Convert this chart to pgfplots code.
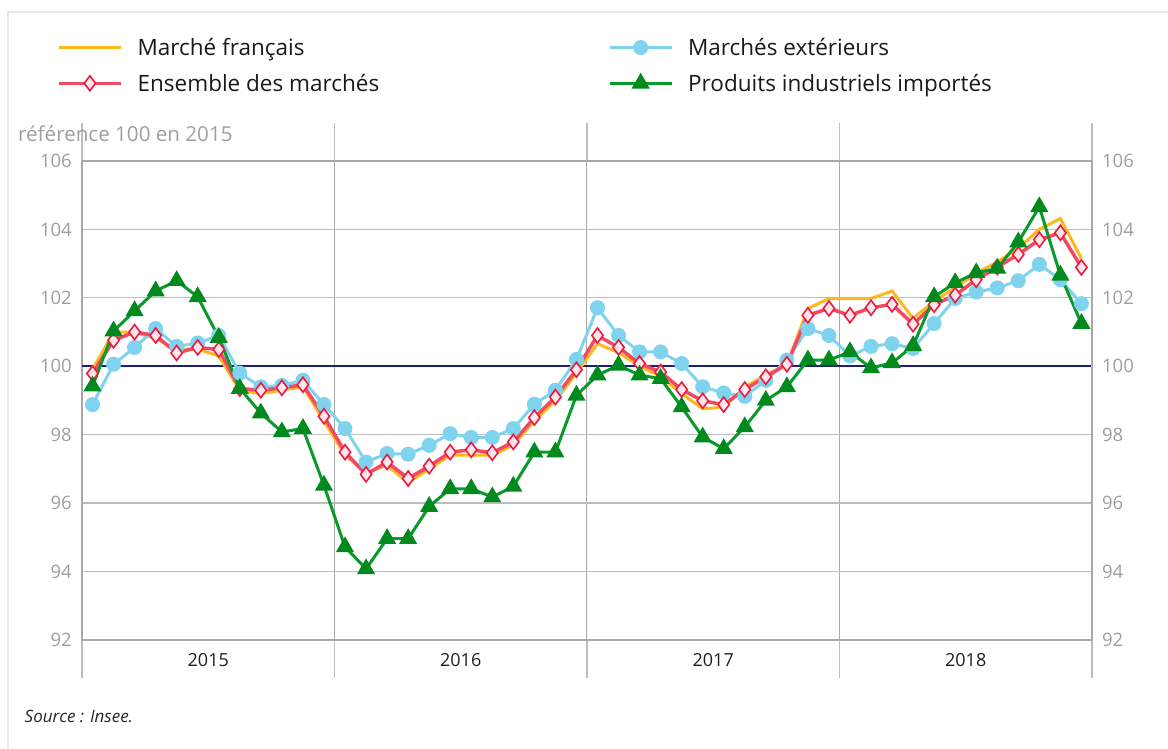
\documentclass[border=0pt]{standalone}
\usepackage{pgfplots}
\pgfplotsset{compat=1.18}
\usepackage{pgfplotstable}
\usepackage{fontspec}
\setmainfont{Open Sans}
\definecolor{cOrange}{HTML}{FFB81C}
\definecolor{cRed}{HTML}{F24A64}
\definecolor{cRedMk}{HTML}{EC1A40}
\definecolor{cPink}{HTML}{FDE6EA}
\definecolor{cBlue}{HTML}{7FD3EE}
\definecolor{cGreen}{HTML}{0A9A2C}
\definecolor{cGreenMk}{HTML}{008A1E}
\definecolor{cNavy}{HTML}{1F1F7A}
\definecolor{cGrid}{HTML}{BDBDBD}
\definecolor{cAxis}{HTML}{A8A8A8}
\definecolor{cTick}{HTML}{9E9E9E}
\definecolor{cFrame}{HTML}{E8E8E8}

\pgfplotstableread{
x fr ext ens imp
0.5 99.9 98.88 99.79 99.42
1.5 101.0 100.06 100.76 101.03
2.5 101.0 100.55 101.0 101.62
3.5 100.8 101.1 100.9 102.2
4.5 100.5 100.58 100.39 102.5
5.5 100.5 100.68 100.55 102.03
6.5 100.3 100.9 100.49 100.84
7.5 99.3 99.8 99.35 99.35
8.5 99.2 99.4 99.3 98.63
9.5 99.3 99.44 99.37 98.08
10.5 99.4 99.59 99.46 98.18
11.5 98.4 98.88 98.54 96.52
12.5 97.4 98.18 97.49 94.72
13.5 96.9 97.2 96.84 94.08
14.5 97.1 97.45 97.2 94.96
15.5 96.6 97.43 96.72 94.96
16.5 97.0 97.69 97.08 95.9
17.5 97.4 98.03 97.49 96.42
18.5 97.4 97.92 97.56 96.42
19.5 97.4 97.92 97.47 96.18
20.5 97.7 98.18 97.79 96.49
21.5 98.4 98.89 98.5 97.49
22.5 99.0 99.3 99.1 97.49
23.5 99.8 100.2 99.9 99.15
24.5 100.66 101.71 100.9 99.74
25.5 100.4 100.9 100.55 100.03
26.5 100.0 100.42 100.08 99.74
27.5 99.7 100.42 99.83 99.64
28.5 99.2 100.08 99.32 98.81
29.5 98.76 99.4 98.99 97.93
30.5 98.8 99.22 98.88 97.59
31.5 99.4 99.12 99.32 98.23
32.5 99.75 99.59 99.69 99.0
33.5 100.05 100.18 100.06 99.4
34.5 101.69 101.1 101.49 100.18
35.5 101.98 100.9 101.69 100.18
36.5 101.98 100.3 101.49 100.42
37.5 101.98 100.58 101.71 99.95
38.5 102.2 100.66 101.81 100.1
39.5 101.4 100.52 101.23 100.6
40.5 101.9 101.25 101.8 102.03
41.5 102.3 101.98 102.08 102.44
42.5 102.72 102.17 102.53 102.73
43.5 103.05 102.29 102.9 102.86
44.5 103.45 102.5 103.27 103.63
45.5 104.0 102.98 103.7 104.66
46.5 104.32 102.53 103.9 102.66
47.5 103.15 101.83 102.89 101.25
}\data

\begin{document}
\begin{tikzpicture}
\path[use as bounding box] (0pt,0pt) rectangle (1168pt,749pt);
\draw[cFrame, line width=2pt] (8.4pt,-5pt) -- (8.4pt,736.7pt) -- (1175pt,736.7pt);

\begin{axis}[
  at={(82pt,109pt)}, anchor=south west,
  width=1010pt, height=479pt, scale only axis,
  xmin=0, xmax=48, ymin=92, ymax=106,
  ytick={92,94,...,106},
  xtick={0,12,24,36,48}, xticklabels={},
  xmajorgrids, ymajorgrids,
  major grid style={cGrid, line width=1.3pt},
  x grid style={cAxis, line width=1pt},
  tick align=outside,
  major tick length=38pt,
  xtick style={cGrid, line width=1.2pt},
  ytick style={draw=none},
  axis line style={cGrid, line width=1.3pt},
  y axis line style={cAxis, line width=1.8pt},
  /pgf/number format/assume math mode=true,
  yticklabel style={font=\fontsize{18.5}{20}\selectfont, text=cTick, anchor=east, inner sep=0pt, xshift=28pt},
  extra x ticks={6,18,30,42},
  extra x tick labels={2015,2016,2017,2018},
  extra x tick style={grid=none, tick style={draw=none},
     xticklabel style={font=\fontsize{18}{20}\selectfont, text=black!88, anchor=center, inner sep=0pt, yshift=18pt}},
  legend columns=2,
  legend cell align=left,
  legend style={at={(axis description cs:-0.0248,1.2568)}, anchor=north west,
     draw=none, fill=none, inner sep=0pt, font=\fontsize{22.5}{24}\selectfont,
     column sep=15pt, row sep=17pt,
     nodes={inner sep=0pt, text=black!90}},
  legend image code/.code={\draw[mark repeat=2,mark phase=2,#1] plot coordinates {(0pt,0pt) (31pt,0pt) (62pt,0pt)};},
]
\addplot[cNavy, line width=1.8pt, forget plot] coordinates {(0,100) (48,100)};
\addplot[cOrange, line width=3pt] table[x=x,y=fr] {\data};
\addlegendentry{\makebox[455.5pt][l]{Marché français}}
\addplot[cBlue, line width=3pt, mark=*, mark size=6pt, mark options={fill=cBlue, draw=cBlue}] table[x=x,y=ext] {\data};
\addlegendentry{Marchés extérieurs}
\addplot[cRed, line width=3.5pt, mark=diamond*, mark size=7.5pt, mark options={fill=cPink, draw=cRedMk, line width=1.6pt}] table[x=x,y=ens] {\data};
\addlegendentry{\makebox[455.5pt][l]{Ensemble des marchés}}
\addplot[cGreen, line width=3pt, mark=triangle*, mark size=7.5pt, mark options={fill=cGreenMk, draw=cGreenMk}] table[x=x,y=imp] {\data};
\addlegendentry{Produits industriels importés}
\end{axis}

\begin{axis}[
  at={(82pt,109pt)}, anchor=south west,
  width=1010pt, height=479pt, scale only axis,
  xmin=0, xmax=48, ymin=92, ymax=106,
  ytick={92,94,...,106},
  axis y line*=right, axis x line=none,
  ytick style={draw=none},
  y axis line style={cAxis, line width=1.8pt},
  /pgf/number format/assume math mode=true,
  yticklabel style={font=\fontsize{18.5}{20}\selectfont, text=cTick, anchor=west, inner sep=0pt, xshift=10pt},
]
\end{axis}

\node[anchor=base west, text=cTick, inner sep=0pt, font=\fontsize{20.6}{22}\selectfont] at (18pt,607pt) {référence 100 en 2015};
\node[anchor=base west, inner sep=0pt, text=black!85, font=\fontsize{17}{20}\selectfont\itshape] at (24.5pt,26pt) {Source : Insee.};
\end{tikzpicture}
\end{document}
